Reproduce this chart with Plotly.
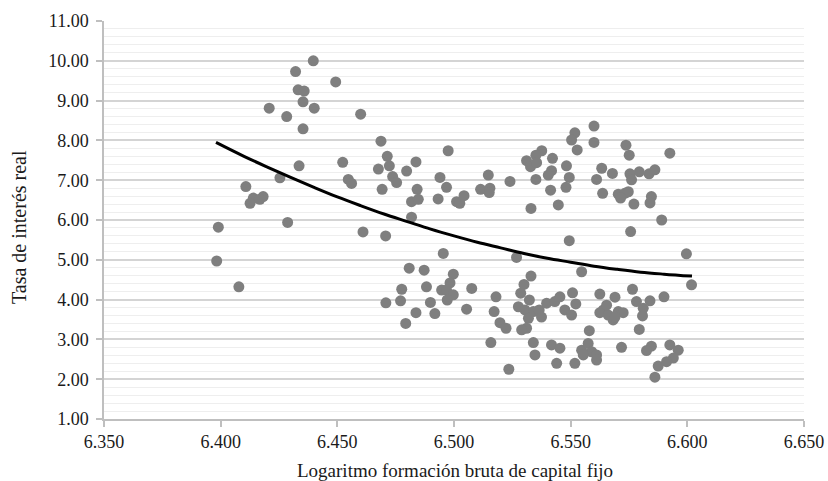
import plotly.graph_objects as go

# Scatter data: Logaritmo FBKF (x) vs tasa de interés real (y)
x_vals = [6.3983, 6.3990, 6.4078, 6.4108, 6.4140, 6.4126, 6.4182, 6.4168, 6.4208, 6.4254,
          6.4283, 6.4287, 6.4321, 6.4332, 6.4358, 6.4353, 6.4353, 6.4336, 6.4397, 6.4401,
          6.4493, 6.4523, 6.4547, 6.4561, 6.4600, 6.4610, 6.4687, 6.4714, 6.4676, 6.4723,
          6.4837, 6.4797, 6.4737, 6.4754, 6.4940, 6.4975, 6.5147, 6.5240, 6.4692, 6.4842,
          6.4968, 6.4818, 6.4847, 6.4932, 6.5011, 6.5025, 6.5043, 6.5114, 6.5154, 6.5151,
          6.4818, 6.4707, 6.4954, 6.5268,
          6.4808, 6.4872, 6.4997, 6.4983, 6.4947, 6.4968, 6.4997, 6.4971, 6.4776, 6.4771,
          6.4882, 6.5076, 6.4708, 6.4899, 6.4918, 6.4837, 6.4793, 6.5054, 6.5180, 6.5172,
          6.5197, 6.5223, 6.5158, 6.5235,
          6.5600, 6.5518, 6.5504, 6.5600, 6.5528, 6.5376, 6.5351, 6.5311, 6.5328, 6.5354,
          6.5422, 6.5482, 6.5418, 6.5404, 6.5494, 6.5480, 6.5351, 6.5414, 6.5330, 6.5447,
          6.5494, 6.5737, 6.5751, 6.5633, 6.5611, 6.5679, 6.5754, 6.5761, 6.5794, 6.5836,
          6.5861, 6.5637, 6.5704, 6.5732, 6.5747, 6.5714, 6.5771, 6.5846, 6.5840, 6.5890,
          6.5757, 6.5925, 6.5996, 6.6018,
          6.5547, 6.5330, 6.5300, 6.5286, 6.5323, 6.5276, 6.5304, 6.5340, 6.5319, 6.5311,
          6.5290, 6.5365, 6.5375, 6.5397, 6.5432, 6.5454, 6.5475, 6.5504, 6.5508, 6.5522,
          6.5340, 6.5347, 6.5418, 6.5454, 6.5440, 6.5518, 6.5547, 6.5575, 6.5590, 6.5554,
          6.5611, 6.5611, 6.5580, 6.5625, 6.5690, 6.5640, 6.5625, 6.5661, 6.5682, 6.5704,
          6.5725, 6.5690, 6.5654, 6.5718, 6.5765, 6.5782, 6.5811, 6.5808, 6.5840, 6.5794,
          6.5846, 6.5825, 6.5875, 6.5861, 6.5900, 6.5925, 6.5961, 6.5940, 6.5911]
y_vals = [4.97, 5.82, 4.32, 6.84, 6.55, 6.42, 6.59, 6.52, 8.81, 7.06,
          8.60, 5.94, 9.73, 9.27, 9.24, 8.97, 8.29, 7.36, 10.00, 8.81,
          9.47, 7.45, 7.02, 6.92, 8.66, 5.70, 7.98, 7.60, 7.28, 7.36,
          7.46, 7.23, 7.09, 6.94, 7.07, 7.74, 7.13, 6.97, 6.77, 6.77,
          6.82, 6.46, 6.52, 6.53, 6.46, 6.42, 6.61, 6.77, 6.80, 6.69,
          6.07, 5.60, 5.16, 5.06,
          4.79, 4.74, 4.64, 4.42, 4.24, 4.24, 4.12, 3.99, 4.26, 3.97,
          4.32, 4.28, 3.92, 3.93, 3.65, 3.67, 3.40, 3.76, 4.07, 3.70,
          3.42, 3.28, 2.92, 2.25,
          8.36, 8.19, 8.01, 7.95, 7.76, 7.74, 7.63, 7.49, 7.34, 7.44,
          7.55, 7.36, 7.24, 7.13, 7.07, 6.82, 7.02, 6.75, 6.29, 6.38,
          5.48, 7.88, 7.63, 7.30, 7.02, 7.17, 7.16, 7.01, 7.21, 7.16,
          7.26, 6.67, 6.65, 6.67, 6.71, 6.55, 6.40, 6.59, 6.43, 6.00,
          5.71, 7.68, 5.15, 4.37,
          4.70, 4.59, 4.38, 4.16, 3.99, 3.82, 3.74, 3.70, 3.53, 3.28,
          3.24, 3.74, 3.56, 3.91, 3.95, 4.07, 3.74, 3.61, 4.17, 3.89,
          2.92, 2.61, 2.86, 2.78, 2.40, 2.40, 2.73, 2.90, 2.69, 2.61,
          2.61, 2.48, 3.22, 4.14, 4.06, 3.74, 3.67, 3.61, 3.49, 3.70,
          3.67, 3.56, 3.86, 2.80, 4.26, 3.95, 3.78, 3.59, 3.97, 3.25,
          2.83, 2.72, 2.33, 2.05, 4.07, 2.86, 2.73, 2.53, 2.44]

# Trend line
trend_x = [6.398, 6.41, 6.42, 6.43, 6.44, 6.45, 6.46, 6.47, 6.48, 6.49, 6.50,
           6.51, 6.52, 6.53, 6.54, 6.55, 6.56, 6.57, 6.58, 6.59, 6.602]
trend_y = [7.95, 7.60, 7.33, 7.07, 6.82, 6.58, 6.36, 6.15, 5.96, 5.77, 5.60,
           5.44, 5.30, 5.16, 5.04, 4.94, 4.84, 4.76, 4.69, 4.64, 4.59]

x_title = "Logaritmo formación bruta de capital fijo"
y_title = "Tasa de interés real"

FONT = "Liberation Serif"
TXT = "#1a1a1a"

fig = go.Figure()
fig.add_trace(go.Scatter(x=x_vals, y=y_vals, mode="markers",
                         marker=dict(size=11, color="#7f7f7f", line=dict(width=0)),
                         showlegend=False, hoverinfo="skip"))
fig.add_trace(go.Scatter(x=trend_x, y=trend_y, mode="lines",
                         line=dict(color="black", width=3, shape="spline"),
                         showlegend=False, hoverinfo="skip"))

L, R, T, B = 104, 24, 21, 62
W, H = 828, 481
pw, ph = W - L - R, H - T - B

fig.update_layout(
    width=W, height=H,
    margin=dict(l=L, r=R, t=T, b=B),
    paper_bgcolor="white", plot_bgcolor="white",
    font=dict(family=FONT, size=18, color=TXT),
    xaxis=dict(range=[6.35, 6.65], dtick=0.05, tick0=6.35, tickformat=".3f",
               automargin=False,
               showgrid=False, zeroline=False,
               showline=True, linecolor="#bfbfbf", linewidth=1.5,
               ticks="outside", ticklen=6, tickcolor="#bfbfbf", tickwidth=1.5,
               tickfont=dict(family=FONT, size=18, color=TXT)),
    yaxis=dict(range=[1, 11], dtick=1, tick0=1, tickformat=".2f",
               automargin=False,
               showgrid=True, gridcolor="#d4d4d4", gridwidth=1.5,
               zeroline=False,
               showline=True, linecolor="#bfbfbf", linewidth=1.5,
               ticks="outside", ticklen=6, tickcolor="#bfbfbf", tickwidth=1.5,
               ticklabelstandoff=4,
               tickfont=dict(family=FONT, size=18, color=TXT),
               minor=dict(dtick=0.2, showgrid=True, gridcolor="#eeeeee", gridwidth=1.2)),
    annotations=[
        dict(text=x_title, xref="paper", yref="paper",
             x=(455 - L) / pw, y=(H - B - 470) / ph,
             xanchor="center", yanchor="middle", showarrow=False,
             font=dict(family=FONT, size=19, color=TXT)),
        dict(text=y_title, xref="paper", yref="paper",
             x=(19 - L) / pw, y=(H - B - 227) / ph, textangle=-90,
             xanchor="center", yanchor="middle", showarrow=False,
             font=dict(family=FONT, size=20, color=TXT)),
    ],
)

fig.write_html("out.html")
